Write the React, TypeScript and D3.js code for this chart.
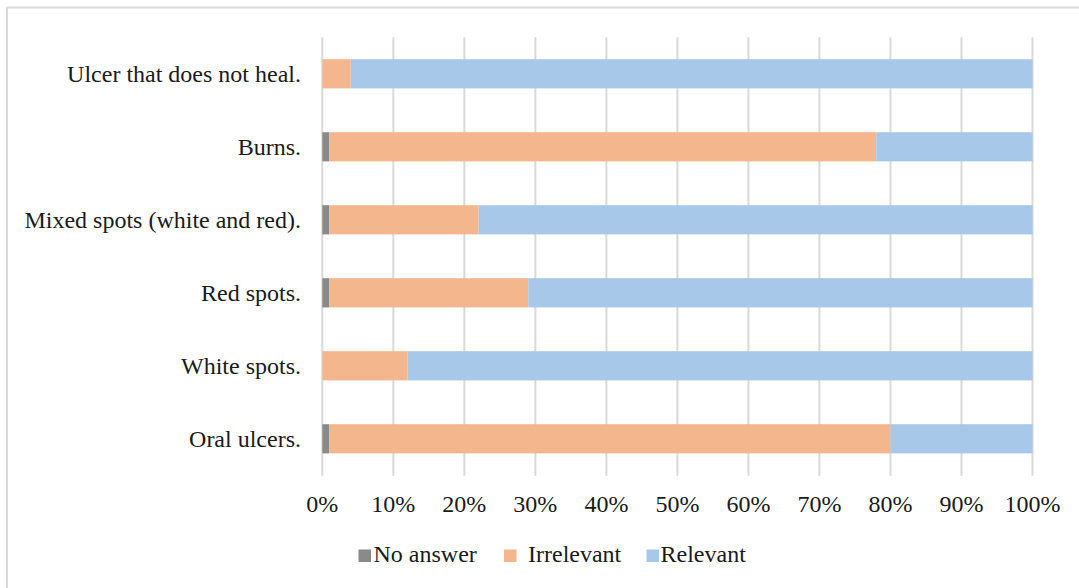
import React from "react";
import * as d3 from "d3";

// Survey items, top to bottom
const categories = [
  "Ulcer that does not heal.",
  "Burns.",
  "Mixed spots (white and red).",
  "Red spots.",
  "White spots.",
  "Oral ulcers.",
];

// Shares of respondents (%) per answer
const noAnswer = [0, 1, 1, 1, 0, 1];
const irrelevant = [4, 77, 21, 28, 12, 79];
const relevant = [96, 22, 78, 71, 88, 20];

const seriesNames = ["No answer", "Irrelevant", "Relevant"];
const seriesColors = ["#8a8a8a", "#f4b68c", "#a7c8e9"];
const tickValues = [0, 10, 20, 30, 40, 50, 60, 70, 80, 90, 100];

const W = 1079;
const H = 588;
const FONT = "'Liberation Serif', 'Times New Roman', serif";

export default function App() {
  const x = d3.scaleLinear().domain([0, 100]).range([322.3, 1032.5]);
  const y = d3
    .scaleBand<string>()
    .domain(categories)
    .range([37.3, 475.3])
    .paddingInner(0.6)
    .paddingOuter(0.3);

  const rows = categories.map((c, i) => ({
    category: c,
    "No answer": noAnswer[i],
    Irrelevant: irrelevant[i],
    Relevant: relevant[i],
  }));
  const stacked = d3.stack<any>().keys(seriesNames)(rows);

  // legend item positions
  const legend = [
    { swatch: 358.5, text: 373.5 },
    { swatch: 504, text: 528 },
    { swatch: 646.5, text: 660.5 },
  ];

  return (
    <svg
      width={W}
      height={H}
      style={{ position: "absolute", left: 0, top: 0, background: "#fff" }}
      fontFamily={FONT}
    >
      <rect x={0} y={0} width={W} height={H} fill="#fff" />
      {/* chart frame */}
      <line x1={7} x2={W} y1={7.5} y2={7.5} stroke="#d9d9d9" strokeWidth={2} />
      <line x1={7} x2={7} y1={7} y2={H} stroke="#d9d9d9" strokeWidth={2} />

      {/* vertical gridlines */}
      {tickValues.map((t) => (
        <line
          key={t}
          x1={x(t)}
          x2={x(t)}
          y1={37.3}
          y2={475.8}
          stroke="#d9d9d9"
          strokeWidth={2}
        />
      ))}

      {/* stacked bars */}
      {stacked.map((s, si) => (
        <g key={s.key} fill={seriesColors[si]}>
          {s.map((d, i) =>
            d[1] - d[0] > 0 ? (
              <rect
                key={i}
                x={x(d[0])}
                y={y(categories[i])!}
                width={x(d[1]) - x(d[0])}
                height={y.bandwidth()}
              />
            ) : null
          )}
        </g>
      ))}

      {/* category labels */}
      {categories.map((c) => (
        <text
          key={c}
          x={301}
          y={y(c)! + y.bandwidth() / 2 + 8.5}
          textAnchor="end"
          fontSize={24}
          fill="#1a1a1a"
        >
          {c}
        </text>
      ))}

      {/* value axis labels */}
      {tickValues.map((t) => (
        <text
          key={t}
          x={x(t)}
          y={512}
          textAnchor="middle"
          fontSize={24}
          fill="#1a1a1a"
        >
          {t + "%"}
        </text>
      ))}

      {/* legend */}
      {seriesNames.map((n, i) => (
        <g key={n}>
          <rect
            x={legend[i].swatch}
            y={549.5}
            width={12.5}
            height={12.5}
            fill={seriesColors[i]}
          />
          <text x={legend[i].text} y={562} fontSize={24} fill="#1a1a1a">
            {n}
          </text>
        </g>
      ))}
    </svg>
  );
}
